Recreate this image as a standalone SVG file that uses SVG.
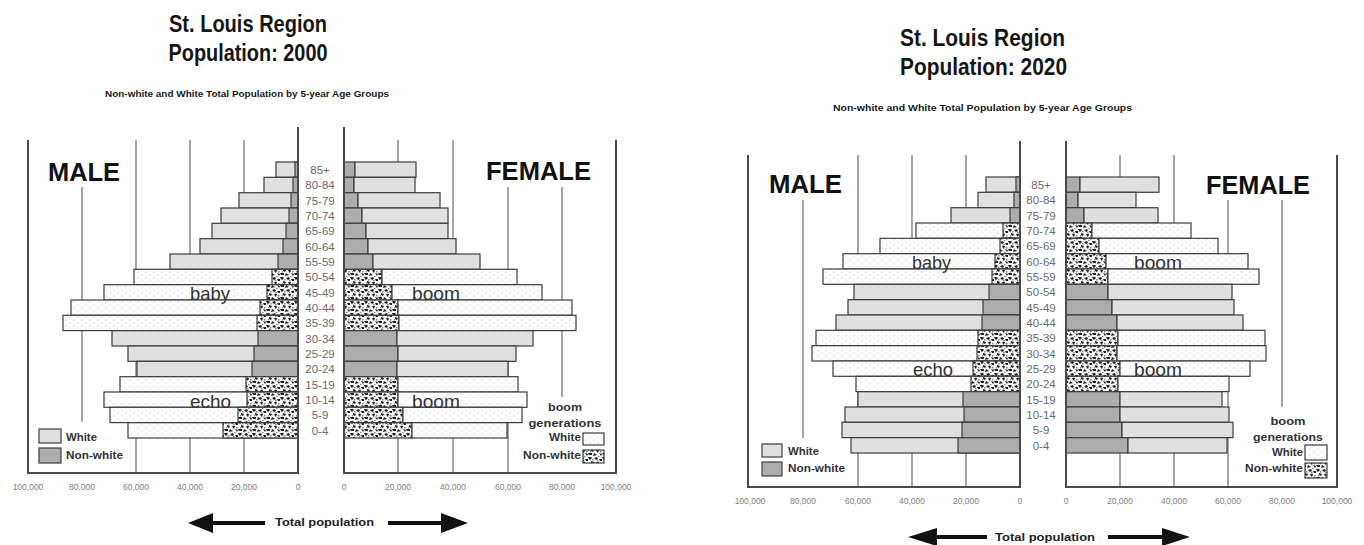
<svg xmlns="http://www.w3.org/2000/svg" width="1364" height="545" viewBox="0 0 1364 545">
<style>
.t{font-family:"Liberation Sans",Arial,sans-serif;font-weight:bold;fill:#151515;text-anchor:middle}
.sub{font-family:"Liberation Sans",Arial,sans-serif;font-weight:bold;font-size:9px;fill:#1a1a1a;text-anchor:middle}
.sex{font-family:"Liberation Sans",Arial,sans-serif;font-weight:bold;font-size:25px;fill:#111}
.age{font-family:"Liberation Sans",Arial,sans-serif;font-size:11.5px;fill:#6a6a6a;text-anchor:middle}
.ann{font-family:"Liberation Sans",Arial,sans-serif;font-size:19px;fill:#333}
.tick{font-family:"Liberation Sans",Arial,sans-serif;font-size:8.5px;fill:#808080;text-anchor:middle}
.lg{font-family:"Liberation Sans",Arial,sans-serif;font-weight:bold;font-size:11px;fill:#333}
.tp{font-family:"Liberation Sans",Arial,sans-serif;font-weight:bold;font-size:11.5px;fill:#222}
.w{fill:#e0e0e0;stroke:#3c3c3c;stroke-width:1.2}
.n{fill:#adadad;stroke:#3c3c3c;stroke-width:1.2}
.bw{fill:url(#dots);stroke:#3c3c3c;stroke-width:1.2}
.bn{fill:url(#noise);stroke:#3c3c3c;stroke-width:1.2}
.grid{stroke:#8a8a8a;stroke-width:1.5;fill:none}
.frame{stroke:#4a4a4a;stroke-width:2;fill:none}
.arr{fill:#111}
</style>
<defs>
<pattern id="dots" width="8" height="6" patternUnits="userSpaceOnUse"><rect width="8" height="6" fill="#fff"/><circle cx="2" cy="2" r="0.6" fill="#aaa"/><circle cx="6" cy="5" r="0.6" fill="#bbb"/></pattern>
<pattern id="noise" width="14" height="12" patternUnits="userSpaceOnUse"><rect width="14" height="12" fill="#f4f4f4"/><g fill="#222"><path d="M0 1h3l1 1-2 2-1-1z"/><path d="M6 2l3-1 1 2-2 1z"/><path d="M11 3h3v2h-2z"/><path d="M3 5l3 1-1 2-2-1z"/><path d="M8 6h3l-1 3-1-1z"/><path d="M0 9h4v2H1z"/><path d="M6 9l3 2-4 1z"/><path d="M11 9l3 1-1 2z"/></g><g fill="#888"><rect x="4" y="3" width="1.5" height="1.5"/><rect x="9" y="4" width="1.5" height="1.5"/><rect x="12" y="7" width="1.5" height="1.5"/><rect x="2" y="7" width="1" height="1.5"/><rect x="10" y="0" width="1.5" height="1"/></g></pattern>
</defs>
<rect width="1364" height="545" fill="#fff"/>

<!-- ============ 2000 ============ -->
<g id="titles2000">
<text class="t" x="248" y="32" font-size="23.5" textLength="158" lengthAdjust="spacingAndGlyphs">St. Louis Region</text>
<text class="t" x="248" y="61" font-size="23.5" textLength="159" lengthAdjust="spacingAndGlyphs">Population: 2000</text>
<text class="sub" x="247" y="97" textLength="284" lengthAdjust="spacingAndGlyphs">Non-white and White Total Population by 5-year Age Groups</text>
</g>
<g id="grid2000">
<line class="grid" x1="244" y1="140" x2="244" y2="473"/>
<line class="grid" x1="190" y1="140" x2="190" y2="473"/>
<line class="grid" x1="136" y1="140" x2="136" y2="473"/>
<line class="grid" x1="82" y1="187" x2="82" y2="422"/>
<line class="grid" x1="398" y1="140" x2="398" y2="473"/>
<line class="grid" x1="453" y1="140" x2="453" y2="473"/>
<line class="grid" x1="508" y1="187" x2="508" y2="473"/>
<line class="grid" x1="562" y1="187" x2="562" y2="397"/>
</g>
<g id="male2000">
<rect class="w" x="276" y="162" width="22" height="15.3"/><rect class="n" x="295" y="162" width="3" height="15.3"/>
<rect class="w" x="264" y="177.3" width="34" height="15.3"/><rect class="n" x="293" y="177.3" width="5" height="15.3"/>
<rect class="w" x="239" y="192.7" width="59" height="15.3"/><rect class="n" x="291" y="192.7" width="7" height="15.3"/>
<rect class="w" x="221" y="208" width="77" height="15.3"/><rect class="n" x="289" y="208" width="9" height="15.3"/>
<rect class="w" x="212" y="223.3" width="86" height="15.3"/><rect class="n" x="286" y="223.3" width="12" height="15.3"/>
<rect class="w" x="200" y="238.7" width="98" height="15.3"/><rect class="n" x="283" y="238.7" width="15" height="15.3"/>
<rect class="w" x="170" y="254" width="128" height="15.3"/><rect class="n" x="278" y="254" width="20" height="15.3"/>
<rect class="bw" x="134" y="269.3" width="164" height="15.3"/><rect class="bn" x="272" y="269.3" width="26" height="15.3"/>
<rect class="bw" x="104" y="284.7" width="194" height="15.3"/><rect class="bn" x="267" y="284.7" width="31" height="15.3"/>
<rect class="bw" x="71" y="300" width="227" height="15.3"/><rect class="bn" x="260" y="300" width="38" height="15.3"/>
<rect class="bw" x="63" y="315.3" width="235" height="15.3"/><rect class="bn" x="257" y="315.3" width="41" height="15.3"/>
<rect class="w" x="112" y="330.7" width="186" height="15.3"/><rect class="n" x="258" y="330.7" width="40" height="15.3"/>
<rect class="w" x="128" y="346" width="170" height="15.3"/><rect class="n" x="254" y="346" width="44" height="15.3"/>
<rect class="w" x="137" y="361.3" width="161" height="15.3"/><rect class="n" x="252" y="361.3" width="46" height="15.3"/>
<rect class="bw" x="120" y="376.7" width="178" height="15.3"/><rect class="bn" x="246" y="376.7" width="52" height="15.3"/>
<rect class="bw" x="104" y="392" width="194" height="15.3"/><rect class="bn" x="247" y="392" width="51" height="15.3"/>
<rect class="bw" x="110" y="407.3" width="188" height="15.3"/><rect class="bn" x="238" y="407.3" width="60" height="15.3"/>
<rect class="bw" x="128" y="422.7" width="170" height="15.3"/><rect class="bn" x="223" y="422.7" width="75" height="15.3"/>
</g>
<g id="female2000">
<rect class="n" x="344" y="162" width="11" height="15.3"/><rect class="w" x="355" y="162" width="61" height="15.3"/>
<rect class="n" x="344" y="177.3" width="10" height="15.3"/><rect class="w" x="354" y="177.3" width="61" height="15.3"/>
<rect class="n" x="344" y="192.7" width="14" height="15.3"/><rect class="w" x="358" y="192.7" width="82" height="15.3"/>
<rect class="n" x="344" y="208" width="18" height="15.3"/><rect class="w" x="362" y="208" width="86" height="15.3"/>
<rect class="n" x="344" y="223.3" width="22" height="15.3"/><rect class="w" x="366" y="223.3" width="82" height="15.3"/>
<rect class="n" x="344" y="238.7" width="24" height="15.3"/><rect class="w" x="368" y="238.7" width="88" height="15.3"/>
<rect class="n" x="344" y="254" width="29" height="15.3"/><rect class="w" x="373" y="254" width="107" height="15.3"/>
<rect class="bn" x="344" y="269.3" width="38" height="15.3"/><rect class="bw" x="382" y="269.3" width="135" height="15.3"/>
<rect class="bn" x="344" y="284.7" width="48" height="15.3"/><rect class="bw" x="392" y="284.7" width="150" height="15.3"/>
<rect class="bn" x="344" y="300" width="54" height="15.3"/><rect class="bw" x="398" y="300" width="174" height="15.3"/>
<rect class="bn" x="344" y="315.3" width="55" height="15.3"/><rect class="bw" x="399" y="315.3" width="177" height="15.3"/>
<rect class="n" x="344" y="330.7" width="53" height="15.3"/><rect class="w" x="397" y="330.7" width="136" height="15.3"/>
<rect class="n" x="344" y="346" width="54" height="15.3"/><rect class="w" x="398" y="346" width="118" height="15.3"/>
<rect class="n" x="344" y="361.3" width="53" height="15.3"/><rect class="w" x="397" y="361.3" width="111" height="15.3"/>
<rect class="bn" x="344" y="376.7" width="54" height="15.3"/><rect class="bw" x="398" y="376.7" width="120" height="15.3"/>
<rect class="bn" x="344" y="392" width="54" height="15.3"/><rect class="bw" x="398" y="392" width="129" height="15.3"/>
<rect class="bn" x="344" y="407.3" width="59" height="15.3"/><rect class="bw" x="403" y="407.3" width="119" height="15.3"/>
<rect class="bn" x="344" y="422.7" width="68" height="15.3"/><rect class="bw" x="412" y="422.7" width="95" height="15.3"/>
</g>
<g id="frame2000">
<polyline class="frame" points="28,140 28,473 298,473 298,127"/>
<polyline class="frame" points="344,127 344,473 616,473 616,140"/>
</g>
<g id="ages2000">
<text class="age" x="320" y="173.8">85+</text>
<text class="age" x="320" y="189.1">80-84</text>
<text class="age" x="320" y="204.5">75-79</text>
<text class="age" x="320" y="219.8">70-74</text>
<text class="age" x="320" y="235.1">65-69</text>
<text class="age" x="320" y="250.5">60-64</text>
<text class="age" x="320" y="265.8">55-59</text>
<text class="age" x="320" y="281.1">50-54</text>
<text class="age" x="320" y="296.5">45-49</text>
<text class="age" x="320" y="311.8">40-44</text>
<text class="age" x="320" y="327.1">35-39</text>
<text class="age" x="320" y="342.5">30-34</text>
<text class="age" x="320" y="357.8">25-29</text>
<text class="age" x="320" y="373.1">20-24</text>
<text class="age" x="320" y="388.5">15-19</text>
<text class="age" x="320" y="403.8">10-14</text>
<text class="age" x="320" y="419.1">5-9</text>
<text class="age" x="320" y="434.5">0-4</text>
</g>
<g id="labels2000">
<text class="sex" x="48" y="181" textLength="72" lengthAdjust="spacingAndGlyphs">MALE</text>
<text class="sex" x="486" y="180" textLength="105" lengthAdjust="spacingAndGlyphs">FEMALE</text>
<text class="ann" x="190" y="299.5" textLength="40" lengthAdjust="spacingAndGlyphs">baby</text>
<text class="ann" x="412" y="299.5" textLength="48" lengthAdjust="spacingAndGlyphs">boom</text>
<text class="ann" x="190" y="407.5" textLength="41" lengthAdjust="spacingAndGlyphs">echo</text>
<text class="ann" x="412" y="407.5" textLength="48" lengthAdjust="spacingAndGlyphs">boom</text>
</g>
<g id="ticks2000">
<text class="tick" x="28" y="490">100,000</text>
<text class="tick" x="82" y="490">80,000</text>
<text class="tick" x="136" y="490">60,000</text>
<text class="tick" x="190" y="490">40,000</text>
<text class="tick" x="244" y="490">20,000</text>
<text class="tick" x="298" y="490">0</text>
<text class="tick" x="344" y="490">0</text>
<text class="tick" x="398" y="490">20,000</text>
<text class="tick" x="453" y="490">40,000</text>
<text class="tick" x="508" y="490">60,000</text>
<text class="tick" x="562" y="490">80,000</text>
<text class="tick" x="616" y="490">100,000</text>
</g>
<g id="legend2000">
<rect class="w" x="39" y="429" width="22" height="14"/>
<rect class="n" x="39" y="448" width="22" height="15"/>
<text class="lg" x="66" y="441" textLength="31" lengthAdjust="spacingAndGlyphs">White</text>
<text class="lg" x="66" y="459" textLength="57" lengthAdjust="spacingAndGlyphs">Non-white</text>
<text class="lg" x="565" y="411" text-anchor="middle" textLength="34" lengthAdjust="spacingAndGlyphs">boom</text>
<text class="lg" x="565" y="427" text-anchor="middle" textLength="73" lengthAdjust="spacingAndGlyphs">generations</text>
<text class="lg" x="581" y="441" text-anchor="end" textLength="32" lengthAdjust="spacingAndGlyphs">White</text>
<text class="lg" x="581" y="459" text-anchor="end" textLength="58" lengthAdjust="spacingAndGlyphs">Non-white</text>
<rect class="bw" x="583" y="433" width="21" height="12"/>
<rect class="bn" x="583" y="450" width="21" height="13"/>
</g>
<g id="axis2000">
<rect class="arr" x="211" y="521" width="54" height="4"/>
<polygon class="arr" points="188,523 213,513 213,533"/>
<text class="tp" x="275" y="526" textLength="99" lengthAdjust="spacingAndGlyphs">Total population</text>
<rect class="arr" x="388" y="521" width="55" height="4"/>
<polygon class="arr" points="468,523 441,513 441,533"/>
</g>

<!-- ============ 2020 ============ -->
<g id="titles2020">
<text class="t" x="982.5" y="46" font-size="24" textLength="165" lengthAdjust="spacingAndGlyphs">St. Louis Region</text>
<text class="t" x="983.5" y="75" font-size="24" textLength="167" lengthAdjust="spacingAndGlyphs">Population: 2020</text>
<text class="sub" x="982.5" y="111" textLength="299" lengthAdjust="spacingAndGlyphs">Non-white and White Total Population by 5-year Age Groups</text>
</g>
<g id="grid2020">
<line class="grid" x1="966" y1="155" x2="966" y2="487"/>
<line class="grid" x1="912" y1="155" x2="912" y2="487"/>
<line class="grid" x1="858" y1="155" x2="858" y2="487"/>
<line class="grid" x1="803" y1="200" x2="803" y2="438"/>
<line class="grid" x1="1120" y1="155" x2="1120" y2="487"/>
<line class="grid" x1="1174" y1="155" x2="1174" y2="487"/>
<line class="grid" x1="1228" y1="200" x2="1228" y2="487"/>
<line class="grid" x1="1282" y1="200" x2="1282" y2="407"/>
</g>
<g id="male2020">
<rect class="w" x="986" y="177" width="34" height="15.3"/><rect class="n" x="1016" y="177" width="4" height="15.3"/>
<rect class="w" x="978" y="192.3" width="42" height="15.3"/><rect class="n" x="1014" y="192.3" width="6" height="15.3"/>
<rect class="w" x="951" y="207.7" width="69" height="15.3"/><rect class="n" x="1010" y="207.7" width="10" height="15.3"/>
<rect class="bw" x="916" y="223" width="104" height="15.3"/><rect class="bn" x="1003" y="223" width="17" height="15.3"/>
<rect class="bw" x="880" y="238.3" width="140" height="15.3"/><rect class="bn" x="1000" y="238.3" width="20" height="15.3"/>
<rect class="bw" x="843" y="253.7" width="177" height="15.3"/><rect class="bn" x="995" y="253.7" width="25" height="15.3"/>
<rect class="bw" x="823" y="269" width="197" height="15.3"/><rect class="bn" x="992" y="269" width="28" height="15.3"/>
<rect class="w" x="854" y="284.3" width="166" height="15.3"/><rect class="n" x="989" y="284.3" width="31" height="15.3"/>
<rect class="w" x="848" y="299.7" width="172" height="15.3"/><rect class="n" x="983" y="299.7" width="37" height="15.3"/>
<rect class="w" x="836" y="315" width="184" height="15.3"/><rect class="n" x="982" y="315" width="38" height="15.3"/>
<rect class="bw" x="816" y="330.3" width="204" height="15.3"/><rect class="bn" x="978" y="330.3" width="42" height="15.3"/>
<rect class="bw" x="812" y="345.7" width="208" height="15.3"/><rect class="bn" x="977" y="345.7" width="43" height="15.3"/>
<rect class="bw" x="833" y="361" width="187" height="15.3"/><rect class="bn" x="973" y="361" width="47" height="15.3"/>
<rect class="bw" x="856" y="376.3" width="164" height="15.3"/><rect class="bn" x="971" y="376.3" width="49" height="15.3"/>
<rect class="w" x="858" y="391.7" width="162" height="15.3"/><rect class="n" x="963" y="391.7" width="57" height="15.3"/>
<rect class="w" x="845" y="407" width="175" height="15.3"/><rect class="n" x="964" y="407" width="56" height="15.3"/>
<rect class="w" x="842" y="422.3" width="178" height="15.3"/><rect class="n" x="962" y="422.3" width="58" height="15.3"/>
<rect class="w" x="851" y="437.7" width="169" height="15.3"/><rect class="n" x="958" y="437.7" width="62" height="15.3"/>
</g>
<g id="female2020">
<rect class="n" x="1066" y="177" width="14" height="15.3"/><rect class="w" x="1080" y="177" width="79" height="15.3"/>
<rect class="n" x="1066" y="192.3" width="12" height="15.3"/><rect class="w" x="1078" y="192.3" width="58" height="15.3"/>
<rect class="n" x="1066" y="207.7" width="18" height="15.3"/><rect class="w" x="1084" y="207.7" width="74" height="15.3"/>
<rect class="bn" x="1066" y="223" width="26" height="15.3"/><rect class="bw" x="1092" y="223" width="99" height="15.3"/>
<rect class="bn" x="1066" y="238.3" width="33" height="15.3"/><rect class="bw" x="1099" y="238.3" width="119" height="15.3"/>
<rect class="bn" x="1066" y="253.7" width="40" height="15.3"/><rect class="bw" x="1106" y="253.7" width="142" height="15.3"/>
<rect class="bn" x="1066" y="269" width="42" height="15.3"/><rect class="bw" x="1108" y="269" width="151" height="15.3"/>
<rect class="n" x="1066" y="284.3" width="42" height="15.3"/><rect class="w" x="1108" y="284.3" width="124" height="15.3"/>
<rect class="n" x="1066" y="299.7" width="46" height="15.3"/><rect class="w" x="1112" y="299.7" width="122" height="15.3"/>
<rect class="n" x="1066" y="315" width="51" height="15.3"/><rect class="w" x="1117" y="315" width="126" height="15.3"/>
<rect class="bn" x="1066" y="330.3" width="52" height="15.3"/><rect class="bw" x="1118" y="330.3" width="147" height="15.3"/>
<rect class="bn" x="1066" y="345.7" width="51" height="15.3"/><rect class="bw" x="1117" y="345.7" width="149" height="15.3"/>
<rect class="bn" x="1066" y="361" width="54" height="15.3"/><rect class="bw" x="1120" y="361" width="130" height="15.3"/>
<rect class="bn" x="1066" y="376.3" width="52" height="15.3"/><rect class="bw" x="1118" y="376.3" width="111" height="15.3"/>
<rect class="n" x="1066" y="391.7" width="54" height="15.3"/><rect class="w" x="1120" y="391.7" width="102" height="15.3"/>
<rect class="n" x="1066" y="407" width="54" height="15.3"/><rect class="w" x="1120" y="407" width="109" height="15.3"/>
<rect class="n" x="1066" y="422.3" width="56" height="15.3"/><rect class="w" x="1122" y="422.3" width="111" height="15.3"/>
<rect class="n" x="1066" y="437.7" width="62" height="15.3"/><rect class="w" x="1128" y="437.7" width="99" height="15.3"/>
</g>
<g id="frame2020">
<polyline class="frame" points="748,155 748,487 1020,487 1020,141"/>
<polyline class="frame" points="1066,141 1066,487 1337,487 1337,155"/>
</g>
<g id="ages2020">
<text class="age" x="1041" y="188.8">85+</text>
<text class="age" x="1041" y="204.1">80-84</text>
<text class="age" x="1041" y="219.5">75-79</text>
<text class="age" x="1041" y="234.8">70-74</text>
<text class="age" x="1041" y="250.1">65-69</text>
<text class="age" x="1041" y="265.5">60-64</text>
<text class="age" x="1041" y="280.8">55-59</text>
<text class="age" x="1041" y="296.1">50-54</text>
<text class="age" x="1041" y="311.5">45-49</text>
<text class="age" x="1041" y="326.8">40-44</text>
<text class="age" x="1041" y="342.1">35-39</text>
<text class="age" x="1041" y="357.5">30-34</text>
<text class="age" x="1041" y="372.8">25-29</text>
<text class="age" x="1041" y="388.1">20-24</text>
<text class="age" x="1041" y="403.5">15-19</text>
<text class="age" x="1041" y="418.8">10-14</text>
<text class="age" x="1041" y="434.1">5-9</text>
<text class="age" x="1041" y="449.5">0-4</text>
</g>
<g id="labels2020">
<text class="sex" x="769" y="193" textLength="73" lengthAdjust="spacingAndGlyphs">MALE</text>
<text class="sex" x="1206" y="194" textLength="104" lengthAdjust="spacingAndGlyphs">FEMALE</text>
<text class="ann" x="912" y="268.5" textLength="39" lengthAdjust="spacingAndGlyphs">baby</text>
<text class="ann" x="1134" y="268.5" textLength="48" lengthAdjust="spacingAndGlyphs">boom</text>
<text class="ann" x="913" y="376" textLength="40" lengthAdjust="spacingAndGlyphs">echo</text>
<text class="ann" x="1134" y="376" textLength="48" lengthAdjust="spacingAndGlyphs">boom</text>
</g>
<g id="ticks2020">
<text class="tick" x="750" y="504">100,000</text>
<text class="tick" x="803" y="504">80,000</text>
<text class="tick" x="858" y="504">60,000</text>
<text class="tick" x="912" y="504">40,000</text>
<text class="tick" x="966" y="504">20,000</text>
<text class="tick" x="1020" y="504">0</text>
<text class="tick" x="1066" y="504">0</text>
<text class="tick" x="1120" y="504">20,000</text>
<text class="tick" x="1174" y="504">40,000</text>
<text class="tick" x="1228" y="504">60,000</text>
<text class="tick" x="1282" y="504">80,000</text>
<text class="tick" x="1337" y="504">100,000</text>
</g>
<g id="legend2020">
<rect class="w" x="762" y="444" width="20" height="13"/>
<rect class="n" x="762" y="462" width="20" height="14"/>
<text class="lg" x="788" y="455" textLength="31" lengthAdjust="spacingAndGlyphs">White</text>
<text class="lg" x="788" y="472" textLength="57" lengthAdjust="spacingAndGlyphs">Non-white</text>
<text class="lg" x="1288" y="425" text-anchor="middle" textLength="35" lengthAdjust="spacingAndGlyphs">boom</text>
<text class="lg" x="1288" y="441" text-anchor="middle" textLength="70" lengthAdjust="spacingAndGlyphs">generations</text>
<text class="lg" x="1303" y="456" text-anchor="end" textLength="31" lengthAdjust="spacingAndGlyphs">White</text>
<text class="lg" x="1303" y="472" text-anchor="end" textLength="58" lengthAdjust="spacingAndGlyphs">Non-white</text>
<rect class="bw" x="1305" y="445" width="22" height="15"/>
<rect class="bn" x="1305" y="463" width="22" height="15"/>
</g>
<g id="axis2020">
<rect class="arr" x="935" y="535" width="52" height="4"/>
<polygon class="arr" points="908,537 937,528 937,546"/>
<text class="tp" x="995" y="541" textLength="100" lengthAdjust="spacingAndGlyphs">Total population</text>
<rect class="arr" x="1108" y="535" width="56" height="4"/>
<polygon class="arr" points="1190,537 1162,528 1162,546"/>
</g>
</svg>
